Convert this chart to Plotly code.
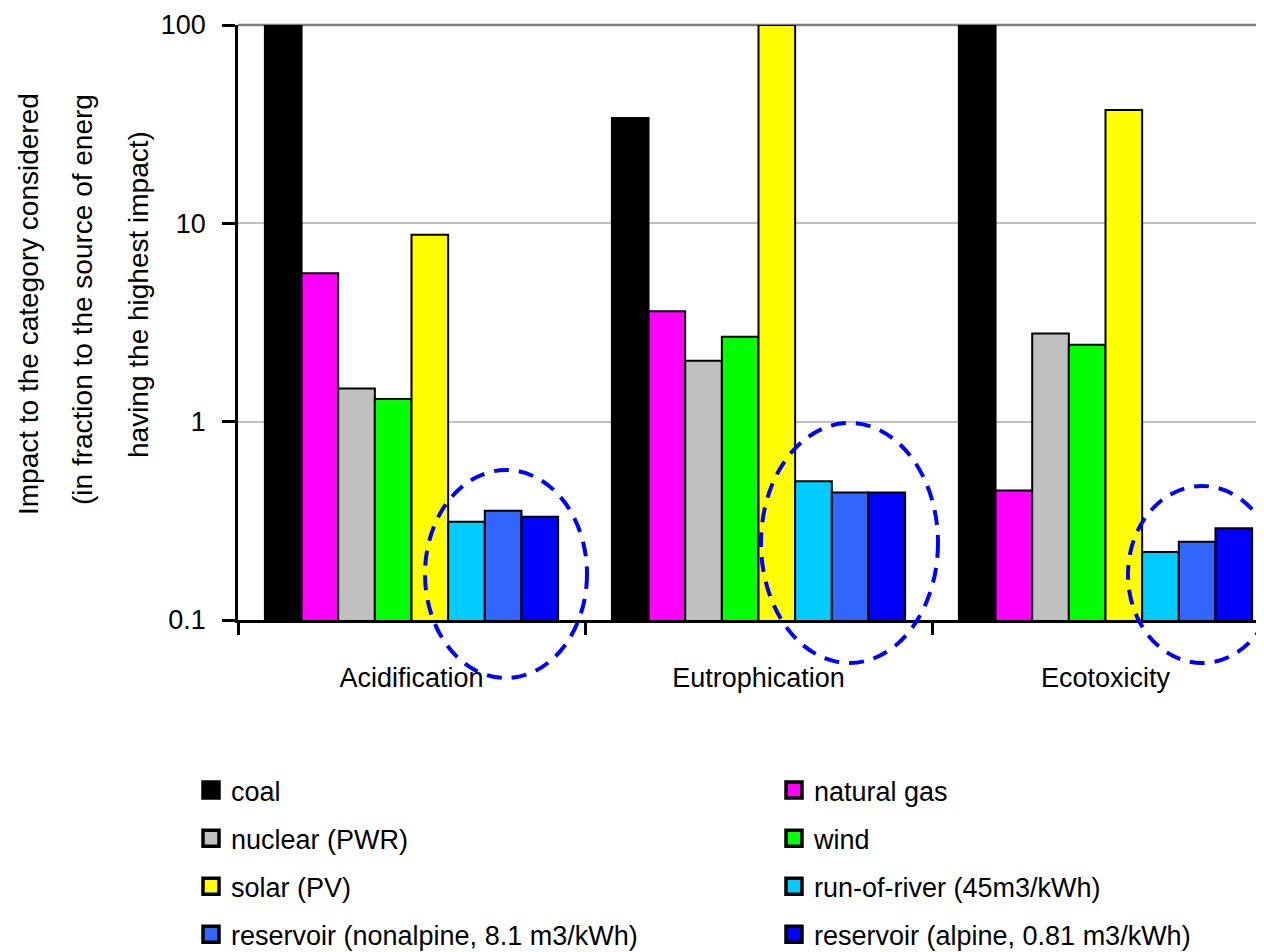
import plotly.graph_objects as go

categories = ["Acidification", "Eutrophication", "Ecotoxicity"]
sources = ["coal", "natural gas", "nuclear (PWR)", "wind", "solar (PV)",
           "run-of-river (45m3/kWh)", "reservoir (nonalpine, 8.1 m3/kWh)",
           "reservoir (alpine, 0.81 m3/kWh)"]

coal = [100, 34, 100]
natural_gas = [5.6, 3.6, 0.45]
nuclear = [1.47, 2.03, 2.78]
wind = [1.3, 2.68, 2.44]
solar = [8.75, 100, 37.3]
run_of_river = [0.313, 0.50, 0.22]
res_nonalpine = [0.356, 0.44, 0.248]
res_alpine = [0.332, 0.44, 0.29]

values = [coal, natural_gas, nuclear, wind, solar, run_of_river, res_nonalpine, res_alpine]
colors = ["#000000", "#FF00FF", "#C0C0C0", "#00FF00", "#FFFF00", "#00CCFF", "#3366FF", "#0000FF"]

ytickvals = [0.1, 1, 10, 100]
yticktext = ["0.1", "1", "10", "100"]

FONT = "Liberation Sans, Arial, sans-serif"
FS = 27

# page body has an 8px margin; screen coords = figure coords + 8
OFF = 8
L, T, B, R = 238, 25, 620, 1279          # plot area in screen px
W, H = R - OFF, 952
PW = R - L
PH = B - T


def px(xp):
    return (xp - L) / PW


def py(yp):
    return (B - yp) / PH


fig = go.Figure()
for name, vals, col in zip(sources, values, colors):
    fig.add_trace(go.Bar(x=categories, y=vals, name=name, showlegend=False,
                         marker=dict(color=col, line=dict(color="#000000", width=2))))

# legend entries (two columns)
for i, (name, col) in enumerate(zip(sources, colors)):
    fig.add_trace(go.Scatter(x=[None], y=[None], mode="markers", name=name,
                             legendgroup=name,
                             legend="legend" if i % 2 == 0 else "legend2",
                             marker=dict(symbol="square", size=20, color=col,
                                         line=dict(color="#000000", width=3.5))))

fig.update_layout(
    width=W, height=H,
    margin=dict(l=L - OFF, r=0, t=T - OFF, b=H - (B - OFF), pad=0, autoexpand=False),
    paper_bgcolor="white", plot_bgcolor="white",
    barmode="group", bargap=0.155, bargroupgap=0,
    font=dict(family=FONT, size=FS, color="#000000"),
    xaxis=dict(type="category", range=[-0.5, 2.5], showgrid=False,
               showline=True, linecolor="#000000", linewidth=2.5,
               ticks="outside", tickson="boundaries", ticklen=12, tickwidth=2.5,
               tickcolor="#000000", ticklabelstandoff=32, automargin=False,
               tickfont=dict(family=FONT, size=FS, color="#000000")),
    yaxis=dict(type="log", range=[-1, 2], tickvals=ytickvals, ticktext=yticktext,
               showgrid=True, gridcolor="#C0C0C0", gridwidth=2,
               showline=True, linecolor="#000000", linewidth=2.5,
               ticks="outside", ticklen=13, tickwidth=2.5, tickcolor="#000000",
               ticklabelstandoff=11, zeroline=False, automargin=False,
               tickfont=dict(family=FONT, size=FS, color="#000000")),
    legend=dict(x=px(191), y=py(766), xanchor="left", yanchor="top",
                orientation="v", tracegroupgap=10, bgcolor="rgba(0,0,0,0)",
                itemsizing="trace",
                font=dict(family=FONT, size=FS, color="#000000")),
    legend2=dict(x=px(774), y=py(766), xanchor="left", yanchor="top",
                 orientation="v", tracegroupgap=10, bgcolor="rgba(0,0,0,0)",
                 itemsizing="trace",
                 font=dict(family=FONT, size=FS, color="#000000")),
)

# top border line at 100
fig.add_shape(type="line", xref="paper", yref="paper", x0=0, x1=1, y0=1, y1=1,
              line=dict(color="#808080", width=2.5), layer="below")

# dashed ellipses
ellipses = [(425, 587, 470, 678), (761, 938, 423, 663), (1128, 1276, 486, 663)]
for x0, x1, y0, y1 in ellipses:
    fig.add_shape(type="circle", xref="paper", yref="paper",
                  x0=px(x0), x1=px(x1), y0=py(y1), y1=py(y0),
                  line=dict(color="#0000FF", width=4, dash="15px,10px"),
                  layer="above")

# y-axis title (three lines)
title_lines = ["Impact to the category considered",
               "(in fraction to the source of energ",
               "having the highest impact)"]
title_pos = [(28, 304), (82, 300), (138, 295)]
for txt, (xx, yy) in zip(title_lines, title_pos):
    fig.add_annotation(text=txt, xref="paper", yref="paper", x=px(xx), y=py(yy),
                       xanchor="center", yanchor="middle", textangle=-90,
                       showarrow=False, font=dict(family=FONT, size=28, color="#000000"))

fig.write_html("out.html")
